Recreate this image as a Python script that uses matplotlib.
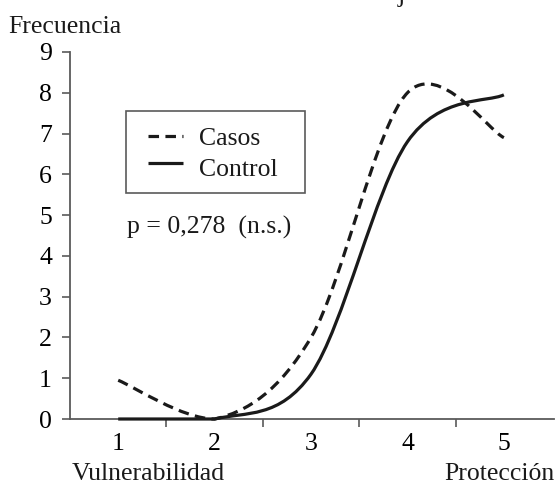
import numpy as np
import matplotlib
matplotlib.use('Agg')
import matplotlib.pyplot as plt
from matplotlib.path import Path
from matplotlib.patches import PathPatch, Rectangle
from matplotlib.lines import Line2D

# data
categorias = [1, 2, 3, 4, 5]
casos = [0.95, 0.0, 2.0, 8.0, 6.9]
control = [0.0, 0.0, 1.1, 6.8, 7.95]
yticks = list(range(0, 10))

plt.rcParams['font.family'] = ['Liberation Serif', 'DejaVu Serif']
fs = 18.5
ink = '#1a1a1a'
axis_col = '#5a5a5a'
dash = (0, (3.3, 2.0))


def smooth_path(x, y):
    # Excel-style smoothed line: cubic bezier through every point
    # (control points kept >= 0, a frequency can't go negative)
    p = np.column_stack([x, y]).astype(float)
    n = len(p)
    verts = [p[0]]
    codes = [Path.MOVETO]
    for i in range(n - 1):
        prev = p[i - 1] if i > 0 else p[i]
        nxt = p[i + 2] if i + 2 < n else p[i + 1]
        c1 = p[i] + (p[i + 1] - prev) / 6.0
        c2 = p[i + 1] - (nxt - p[i]) / 6.0
        c1[1] = max(c1[1], 0.0)
        c2[1] = max(c2[1], 0.0)
        verts += [c1, c2, p[i + 1]]
        codes += [Path.CURVE4] * 3
    return Path(verts, codes)


fig = plt.figure(figsize=(5.56, 4.88), dpi=100)
ax = fig.add_axes([70 / 556, 69 / 488, 484 / 556, 367 / 488])

lw = 2.3
ax.add_patch(PathPatch(smooth_path(categorias, casos), fill=False, color=ink,
                       lw=lw, linestyle=dash, capstyle='butt', clip_on=False, zorder=3))
ax.add_patch(PathPatch(smooth_path(categorias, control), fill=False, color=ink,
                       lw=lw, capstyle='butt', clip_on=False, zorder=3))

ax.set_xlim(0.5, 5.52)
ax.set_ylim(0, 9)
ax.set_yticks(yticks)
ax.set_yticklabels([str(v) for v in yticks], fontsize=fs)
ax.set_xticks(categorias)
ax.set_xticklabels([str(c) for c in categorias], fontsize=fs)
ax.set_xticks([1.5, 2.5, 3.5, 4.5], minor=True)
ax.tick_params(axis='x', which='major', length=0, pad=10)
ax.tick_params(axis='x', which='minor', length=6, width=1.2, color=axis_col, direction='out')
ax.tick_params(axis='y', length=6, width=1.2, color=axis_col, direction='out', pad=7)
for s in ['top', 'right']:
    ax.spines[s].set_visible(False)
for s in ['left', 'bottom']:
    ax.spines[s].set_color(axis_col)
    ax.spines[s].set_linewidth(1.3)

# legend box, placed in pixel terms of the figure
def fx(px):
    return px / 556

def fy(py):
    return 1 - py / 488

fig.patches.append(Rectangle((fx(126), fy(193)), fx(305) - fx(126), fy(111) - fy(193),
                             transform=fig.transFigure, fill=False,
                             edgecolor=axis_col, lw=1.2))
fig.lines.append(Line2D([fx(148), fx(183)], [fy(136), fy(136)], transform=fig.transFigure,
                        color=ink, lw=lw, linestyle=dash, dash_capstyle='butt'))
fig.lines.append(Line2D([fx(148), fx(183)], [fy(163), fy(163)], transform=fig.transFigure,
                        color=ink, lw=lw, solid_capstyle='butt'))
fig.text(fx(199), fy(145), 'Casos', fontsize=fs, va='baseline', ha='left', color=ink)
fig.text(fx(199), fy(176), 'Control', fontsize=fs, va='baseline', ha='left', color=ink)

fig.text(fx(127), fy(234), 'p = 0,278  (n.s.)', fontsize=fs, va='baseline', ha='left', color=ink)

fig.text(fx(8), fy(33), 'Frecuencia', fontsize=fs, va='baseline', ha='left', color=ink)
fig.text(fx(72), fy(480), 'Vulnerabilidad', fontsize=fs, va='baseline', ha='left', color=ink)
fig.text(fx(555), fy(480), 'Protección', fontsize=fs, va='baseline', ha='right', color=ink)
fig.text(fx(398), fy(2), 'j', fontsize=fs, va='baseline', ha='left', color=ink)

fig.savefig('out.png', dpi=100)
